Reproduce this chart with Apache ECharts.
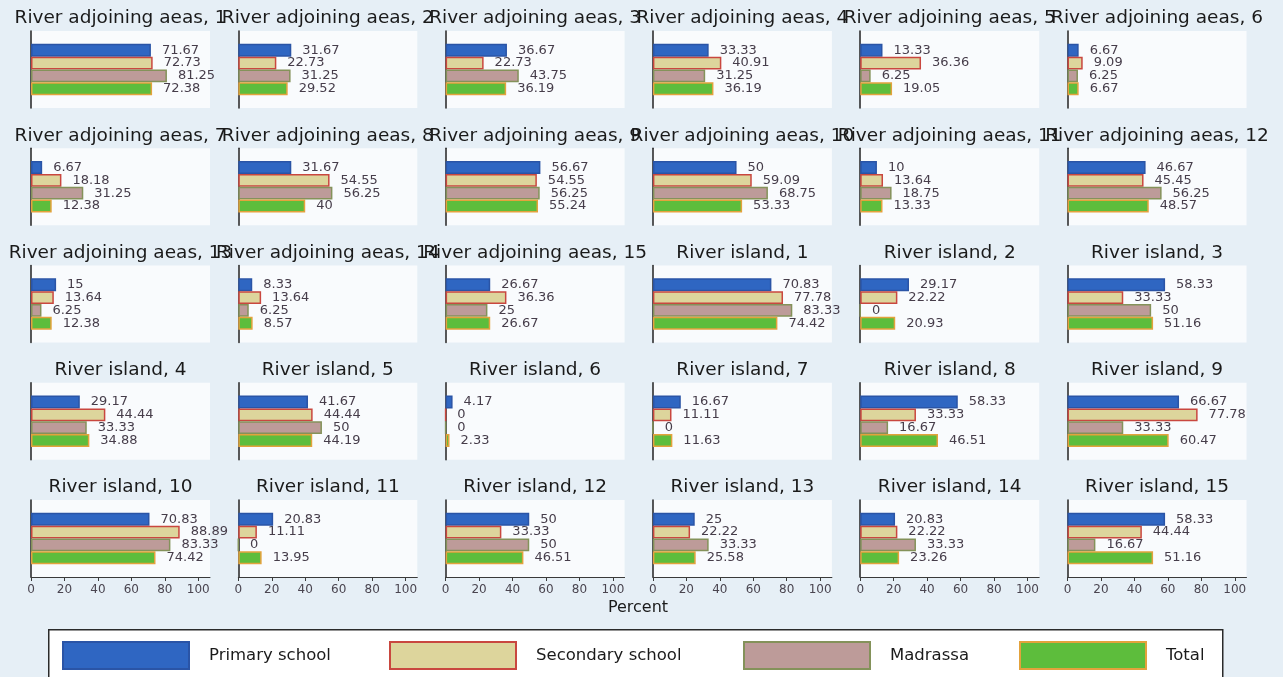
<!DOCTYPE html>
<html>
<head>
<meta charset="utf-8">
<script src="https://cdn.jsdelivr.net/npm/echarts@6/dist/echarts.min.js"></script>
<style>
  html, body { margin: 0; padding: 0; background: #e6eff6; }
  #chart { width: 1283px; height: 677px; }
</style>
</head>
<body>
<div id="chart"></div>
<script>
// ---- Data ----
const panelTitles = [
  'River adjoining aeas, 1', 'River adjoining aeas, 2', 'River adjoining aeas, 3',
  'River adjoining aeas, 4', 'River adjoining aeas, 5', 'River adjoining aeas, 6',
  'River adjoining aeas, 7', 'River adjoining aeas, 8', 'River adjoining aeas, 9',
  'River adjoining aeas, 10', 'River adjoining aeas, 11', 'River adjoining aeas, 12',
  'River adjoining aeas, 13', 'River adjoining aeas, 14', 'River adjoining aeas, 15',
  'River island, 1', 'River island, 2', 'River island, 3',
  'River island, 4', 'River island, 5', 'River island, 6',
  'River island, 7', 'River island, 8', 'River island, 9',
  'River island, 10', 'River island, 11', 'River island, 12',
  'River island, 13', 'River island, 14', 'River island, 15'
];
const seriesNames = ['Primary school', 'Secondary school', 'Madrassa', 'Total'];
const primary   = [71.67, 31.67, 36.67, 33.33, 13.33, 6.67, 6.67, 31.67, 56.67, 50, 10, 46.67, 15, 8.33, 26.67,
                   70.83, 29.17, 58.33, 29.17, 41.67, 4.17, 16.67, 58.33, 66.67, 70.83, 20.83, 50, 25, 20.83, 58.33];
const secondary = [72.73, 22.73, 22.73, 40.91, 36.36, 9.09, 18.18, 54.55, 54.55, 59.09, 13.64, 45.45, 13.64, 13.64, 36.36,
                   77.78, 22.22, 33.33, 44.44, 44.44, 0, 11.11, 33.33, 77.78, 88.89, 11.11, 33.33, 22.22, 22.22, 44.44];
const madrassa  = [81.25, 31.25, 43.75, 31.25, 6.25, 6.25, 31.25, 56.25, 56.25, 68.75, 18.75, 56.25, 6.25, 6.25, 25,
                   83.33, 0, 50, 33.33, 50, 0, 0, 16.67, 33.33, 83.33, 0, 50, 33.33, 33.33, 16.67];
const total     = [72.38, 29.52, 36.19, 36.19, 19.05, 6.67, 12.38, 40, 55.24, 53.33, 13.33, 48.57, 12.38, 8.57, 26.67,
                   74.42, 20.93, 51.16, 34.88, 44.19, 2.33, 11.63, 46.51, 60.47, 74.42, 13.95, 46.51, 25.58, 23.26, 51.16];
const xTicks = [0, 20, 40, 60, 80, 100];
const xTitle = 'Percent';

// ---- Styles ----
const values = [primary, secondary, madrassa, total];
const fills   = ['#2f66c2', '#ddd59c', '#bd9b99', '#5dbd3c'];
const borders = ['#2a54a6', '#c9473f', '#84925a', '#e3a23c'];
const yCats = ['_top', seriesNames[0], seriesNames[1], seriesNames[2], seriesNames[3], '_bottom'];

const nCols = 6, nRows = 5;
const colStep = 207.3, rowStep = 117.25;
const left0 = 31, top0 = 31, gw = 179, gh = 77;

const grids = [], xAxes = [], yAxes = [], series = [], titles = [];
for (let i = 0; i < panelTitles.length; i++) {
  const r = Math.floor(i / nCols), c = i % nCols;
  const gl = left0 + c * colStep, gt = top0 + r * rowStep;
  const bottomRow = r === nRows - 1;
  grids.push({ left: gl, top: gt, width: gw, height: gh, show: true, borderWidth: 0, backgroundColor: '#f9fbfd' });
  xAxes.push({
    type: 'value', gridIndex: i, min: 0, max: 107,
    axisLine: { show: bottomRow, lineStyle: { color: '#3a3a3a', width: 1 } },
    axisTick: { show: bottomRow, length: 4, customValues: xTicks, lineStyle: { color: '#3a3a3a' } },
    axisLabel: { show: bottomRow, customValues: xTicks, fontFamily: 'DejaVu Sans', fontSize: 12, color: '#4a4550', margin: 7 },
    splitLine: { show: false }
  });
  yAxes.push({
    type: 'category', gridIndex: i, data: yCats, inverse: true,
    axisLine: { show: true, lineStyle: { color: '#222', width: 1.5 } },
    axisTick: { show: false }, axisLabel: { show: false }, splitLine: { show: false }
  });
  titles.push({
    text: panelTitles[i], left: gl + gw / 2, top: gt - 22, textAlign: 'center', padding: 0,
    textStyle: { fontFamily: 'DejaVu Sans', fontSize: 18.5, fontWeight: 'normal', color: '#1a1a1a' }
  });
  for (let s = 0; s < 4; s++) {
    series.push({
      name: seriesNames[s], type: 'bar', xAxisIndex: i, yAxisIndex: i,
      barGap: '-100%', barCategoryGap: '0%',
      data: [[values[s][i], seriesNames[s]]],
      itemStyle: { color: fills[s], borderColor: borders[s], borderWidth: 1.5 },
      label: { show: true, position: 'right', distance: 11, fontFamily: 'DejaVu Sans', fontSize: 13, color: '#463d4a',
               formatter: p => String(p.value[0]) },
      emphasis: { disabled: true }, animation: false
    });
  }
}
titles.push({
  text: xTitle, left: 638, top: 600, textAlign: 'center', padding: 0,
  textStyle: { fontFamily: 'DejaVu Sans', fontSize: 16, fontWeight: 'normal', color: '#1a1a1a' }
});

const legendPos = [62, 389, 743, 1019];
const legends = seriesNames.map((n, k) => ({
  data: [n], left: legendPos[k], top: 641, padding: 0, itemWidth: 126, itemHeight: 27, selectedMode: false,
  icon: 'rect',
  textStyle: { fontFamily: 'DejaVu Sans', fontSize: 16.5, color: '#1a1a1a', padding: [0, 0, 0, 15] }
}));

const chart = echarts.init(document.getElementById('chart'), null, { renderer: 'canvas' });
chart.setOption({
  backgroundColor: '#e6eff6',
  animation: false,
  title: titles,
  grid: grids,
  xAxis: xAxes,
  yAxis: yAxes,
  series: series,
  legend: legends,
  graphic: [{
    type: 'rect', left: 48, top: 629, z: -1,
    shape: { width: 1174, height: 60 },
    style: { fill: '#ffffff', stroke: '#2a2a2a', lineWidth: 1.5 }
  }]
});
</script>
</body>
</html>
